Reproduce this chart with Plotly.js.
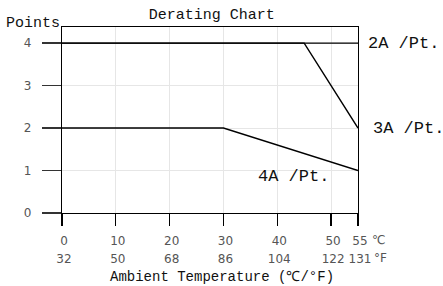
<!DOCTYPE html>
<html><head><meta charset="utf-8">
<script src="https://cdn.plot.ly/plotly-3.0.1.min.js"></script>
<style>html,body{margin:0;padding:0;background:#fff}</style>
</head><body><div id="chart" style="width:443px;height:286px"></div>
<script>
var tempC = [0, 10, 20, 30, 40, 50, 55];
var tempF = [32, 50, 68, 86, 104, 122, 131];
var unitC = "\u2103";
var unitF = "\u00b0F";
var line2A_x = [0, 55];
var line2A_y = [4, 4];
var line3A_x = [0, 45, 55];
var line3A_y = [4, 4, 2];
var line4A_x = [0, 30, 55];
var line4A_y = [2, 2, 1];
var seriesLabels = ["2A /Pt.", "3A /Pt.", "4A /Pt."];
var labelPos = [[55, 4], [55, 2], [43.1, 0.85]];
var yTicks = [0, 1, 2, 3, 4];

var mono = "Liberation Mono, Courier New, monospace";
var sans = "DejaVu Sans, sans-serif";
var ln = {color: "#000", width: 1.4};
var traces = [
  {x: line2A_x, y: line2A_y, mode: "lines", line: ln, hoverinfo: "skip"},
  {x: line3A_x, y: line3A_y, mode: "lines", line: ln, hoverinfo: "skip"},
  {x: line4A_x, y: line4A_y, mode: "lines", line: ln, hoverinfo: "skip"},
  {x: tempC, y: tempC.map(function () { return 0; }), xaxis: "x2", yaxis: "y", mode: "none", hoverinfo: "skip"}
];
var lastC = tempC[tempC.length - 1];
var anns = [
  {x: labelPos[0][0], y: labelPos[0][1], xref: "x", yref: "y", text: seriesLabels[0], showarrow: false, xanchor: "left", xshift: 8, font: {family: mono, size: 17, color: "#111"}},
  {x: labelPos[1][0], y: labelPos[1][1], xref: "x", yref: "y", text: seriesLabels[1], showarrow: false, xanchor: "left", xshift: 13, font: {family: mono, size: 17, color: "#111"}},
  {x: labelPos[2][0], y: labelPos[2][1], xref: "x", yref: "y", text: seriesLabels[2], showarrow: false, xanchor: "center", font: {family: mono, size: 17, color: "#111"}},
  {x: 0, y: 1, xref: "paper", yref: "paper", text: "Points", showarrow: false, xanchor: "right", yanchor: "bottom", xshift: 0, yshift: -7, font: {family: mono, size: 15, color: "#111"}},
  {x: lastC, y: 0, xref: "x", yref: "paper", text: unitC, showarrow: false, xanchor: "left", yanchor: "middle", xshift: 12, yshift: -27, font: {family: sans, size: 12, color: "#555"}},
  {x: lastC, y: 0, xref: "x", yref: "paper", text: unitF, showarrow: false, xanchor: "left", yanchor: "middle", xshift: 14, yshift: -45, font: {family: sans, size: 12, color: "#555"}},
  {x: 0.54, y: 0, xref: "paper", yref: "paper", text: "Ambient Temperature (" + unitC + "/" + unitF + ")", showarrow: false, xanchor: "center", yanchor: "middle", yshift: -64, font: {family: mono, size: 14, color: "#111"}}
];
var layout = {
  width: 443, height: 286,
  margin: {l: 62, r: 85, t: 27, b: 73},
  paper_bgcolor: "#fff", plot_bgcolor: "#fff",
  showlegend: false,
  title: {text: "Derating Chart", font: {family: mono, size: 15, color: "#111"}, x: 0.478, xanchor: "center", y: 0.952, yanchor: "middle"},
  xaxis: {
    range: [0, 55], tickvals: tempC, ticktext: tempC.map(String), tickangle: 0,
    showline: true, mirror: true, linecolor: "#000", linewidth: 1.3,
    ticks: "outside", ticklen: 12, tickcolor: "#000", tickwidth: 1.3,
    ticklabelstandoff: 4, ticklabelshift: 2,
    showgrid: true, gridcolor: "#e6e6e6", gridwidth: 1, zeroline: false,
    tickfont: {family: sans, size: 12, color: "#555"}
  },
  xaxis2: {
    overlaying: "x", anchor: "y", side: "bottom",
    range: [0, 55], tickvals: tempC, ticktext: tempF.map(String), tickangle: 0,
    showline: false, showgrid: false, zeroline: false, ticks: "",
    ticklabelstandoff: 37, ticklabelshift: 2,
    tickfont: {family: sans, size: 12, color: "#555"}
  },
  yaxis: {
    range: [0, 4.38], tickvals: yTicks, tickangle: 0,
    showline: true, mirror: true, linecolor: "#000", linewidth: 1.3,
    ticks: "outside", ticklen: 19, tickcolor: "#333", tickwidth: 1.3,
    ticklabelstandoff: 8,
    showgrid: true, gridcolor: "#e6e6e6", gridwidth: 1, zeroline: false,
    tickfont: {family: sans, size: 12, color: "#555"}
  },
  annotations: anns
};
Plotly.newPlot("chart", traces, layout, {staticPlot: true, displayModeBar: false});
</script></body></html>
